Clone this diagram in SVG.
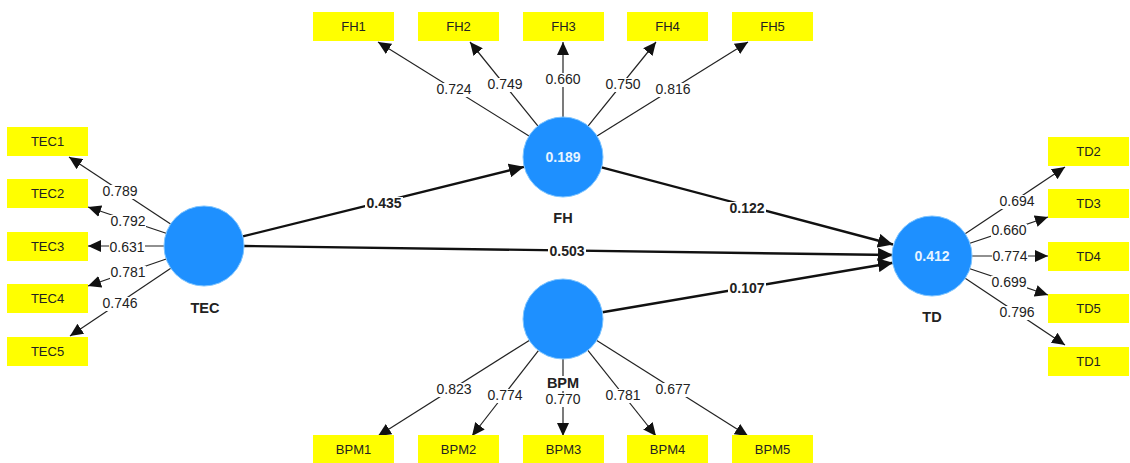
<svg xmlns="http://www.w3.org/2000/svg" width="1130" height="463" viewBox="0 0 1130 463">
<style>
.box{fill:#ffff00}
.bt{font-family:"Liberation Sans",Arial,sans-serif;font-size:13px;fill:#222;text-anchor:middle}
.lv{font-family:"Liberation Sans",Arial,sans-serif;font-size:14px;fill:#222;text-anchor:middle}
.pv{font-family:"Liberation Sans",Arial,sans-serif;font-size:14px;font-weight:bold;fill:#222;text-anchor:middle}
.bg{fill:#fff}
.circ{fill:#1e90ff;stroke:#7cc4ff;stroke-width:1}
.ct{font-family:"Liberation Sans",Arial,sans-serif;font-size:14px;font-weight:bold;fill:#e8f4ff;text-anchor:middle}
.nl{font-family:"Liberation Sans",Arial,sans-serif;font-size:14.5px;font-weight:bold;fill:#222;text-anchor:middle}
.m{stroke:#222;stroke-width:1.2;fill:none;marker-end:url(#a)}
.s{stroke:#111;stroke-width:2.4;fill:none;marker-end:url(#b)}
</style>
<defs>
<marker id="a" markerUnits="userSpaceOnUse" markerWidth="14" markerHeight="12" refX="13" refY="6" orient="auto"><path d="M0,0 L13,6 L0,12 Z" fill="#111"/></marker>
<marker id="b" markerUnits="userSpaceOnUse" markerWidth="16" markerHeight="14" refX="15" refY="7" orient="auto"><path d="M0,0 L15,7 L0,14 Z" fill="#111"/></marker>
</defs>
<rect width="1130" height="463" fill="#fff"/>

<g id="connectors">
<line class="m" x1="170.6" y1="224" x2="69" y2="157"/>
<line class="m" x1="166.1" y1="233.3" x2="88" y2="207"/>
<line class="m" x1="164" y1="246" x2="88" y2="246"/>
<line class="m" x1="166.2" y1="259" x2="88" y2="286"/>
<line class="m" x1="170.8" y1="268.3" x2="70" y2="336"/>

<line class="m" x1="529" y1="135.9" x2="378" y2="42"/>
<line class="m" x1="537.8" y1="125.9" x2="470" y2="42"/>
<line class="m" x1="563" y1="117" x2="563" y2="42"/>
<line class="m" x1="588.2" y1="125.9" x2="656" y2="42"/>
<line class="m" x1="597" y1="135.9" x2="748" y2="42"/>

<line class="m" x1="529.2" y1="340.4" x2="378" y2="436"/>
<line class="m" x1="538.4" y1="350.6" x2="472" y2="436"/>
<line class="m" x1="563" y1="359" x2="563" y2="436"/>
<line class="m" x1="587.9" y1="350.3" x2="656" y2="436"/>
<line class="m" x1="596.8" y1="340.4" x2="748" y2="436"/>

<line class="m" x1="965.2" y1="233.8" x2="1065" y2="167"/>
<line class="m" x1="969.9" y1="243.3" x2="1048" y2="217"/>
<line class="m" x1="972" y1="256" x2="1048" y2="256"/>
<line class="m" x1="969.9" y1="268.7" x2="1048" y2="295"/>
<line class="m" x1="965.2" y1="278.2" x2="1065" y2="345"/>

<line class="s" x1="242.8" y1="236.4" x2="524" y2="166.8"/>
<line class="s" x1="601.6" y1="167.4" x2="893" y2="244.5"/>
<line class="s" x1="244" y1="246" x2="893" y2="255"/>
<line class="s" x1="602.4" y1="312.3" x2="893" y2="262.7"/>

<rect class="bg" x="102" y="185" width="36" height="14"/>
<rect class="bg" x="110" y="215" width="36" height="14"/>
<rect class="bg" x="109" y="240.5" width="36" height="14"/>
<rect class="bg" x="110" y="266" width="36" height="14"/>
<rect class="bg" x="102" y="297" width="36" height="14"/>
<rect class="bg" x="436" y="83" width="36" height="14"/>
<rect class="bg" x="487" y="78" width="36" height="14"/>
<rect class="bg" x="545" y="73" width="36" height="14"/>
<rect class="bg" x="605" y="78" width="36" height="14"/>
<rect class="bg" x="655" y="83" width="36" height="14"/>
<rect class="bg" x="436" y="383" width="36" height="14"/>
<rect class="bg" x="487" y="389" width="36" height="14"/>
<rect class="bg" x="545" y="393" width="36" height="14"/>
<rect class="bg" x="605" y="389" width="36" height="14"/>
<rect class="bg" x="655" y="383" width="36" height="14"/>
<rect class="bg" x="999" y="195" width="36" height="14"/>
<rect class="bg" x="991" y="224" width="36" height="14"/>
<rect class="bg" x="992" y="250" width="36" height="14"/>
<rect class="bg" x="991" y="276" width="36" height="14"/>
<rect class="bg" x="999" y="306" width="36" height="14"/>
<rect class="bg" x="365" y="197" width="38" height="14"/>
<rect class="bg" x="728" y="202" width="38" height="14"/>
<rect class="bg" x="548" y="245" width="38" height="14"/>
<rect class="bg" x="728" y="282" width="38" height="14"/>
<rect class="bg" x="544" y="376" width="38" height="15"/>

<text class="lv" x="120" y="196">0.789</text>
<text class="lv" x="128" y="226">0.792</text>
<text class="lv" x="127" y="251.5">0.631</text>
<text class="lv" x="128" y="277">0.781</text>
<text class="lv" x="120" y="308">0.746</text>

<text class="lv" x="454" y="94">0.724</text>
<text class="lv" x="505" y="89">0.749</text>
<text class="lv" x="563" y="84">0.660</text>
<text class="lv" x="623" y="89">0.750</text>
<text class="lv" x="673" y="94">0.816</text>

<text class="lv" x="454" y="394">0.823</text>
<text class="lv" x="505" y="400">0.774</text>
<text class="lv" x="563" y="404">0.770</text>
<text class="lv" x="623" y="400">0.781</text>
<text class="lv" x="673" y="394">0.677</text>

<text class="lv" x="1017" y="206">0.694</text>
<text class="lv" x="1009" y="235">0.660</text>
<text class="lv" x="1010" y="261">0.774</text>
<text class="lv" x="1009" y="287">0.699</text>
<text class="lv" x="1017" y="317">0.796</text>

<text class="pv" x="384" y="208">0.435</text>
<text class="pv" x="747" y="213">0.122</text>
<text class="pv" x="567" y="256">0.503</text>
<text class="pv" x="747" y="293">0.107</text>
</g>

<g id="TEC">
<circle class="circ" cx="204" cy="246" r="40"/>
<text class="nl" x="205" y="313">TEC</text>
</g>
<g id="FH">
<circle class="circ" cx="563" cy="157" r="40"/>
<text class="ct" x="563" y="162">0.189</text>
<text class="nl" x="563" y="223">FH</text>
</g>
<g id="BPM">
<circle class="circ" cx="563" cy="319" r="40"/>
<text class="nl" x="563" y="388">BPM</text>
</g>
<g id="TD">
<circle class="circ" cx="932" cy="256" r="40"/>
<text class="ct" x="932" y="261">0.412</text>
<text class="nl" x="932" y="322">TD</text>
</g>

<g id="TEC1"><rect class="box" x="7" y="127" width="81" height="29"/><text class="bt" x="47.5" y="146">TEC1</text></g>
<g id="TEC2"><rect class="box" x="7" y="179" width="81" height="29"/><text class="bt" x="47.5" y="198">TEC2</text></g>
<g id="TEC3"><rect class="box" x="7" y="232" width="81" height="29"/><text class="bt" x="47.5" y="251">TEC3</text></g>
<g id="TEC4"><rect class="box" x="7" y="284" width="81" height="29"/><text class="bt" x="47.5" y="303">TEC4</text></g>
<g id="TEC5"><rect class="box" x="7" y="337" width="81" height="29"/><text class="bt" x="47.5" y="356">TEC5</text></g>

<g id="FH1"><rect class="box" x="313" y="12" width="81" height="29"/><text class="bt" x="353.5" y="31">FH1</text></g>
<g id="FH2"><rect class="box" x="418" y="12" width="81" height="29"/><text class="bt" x="458.5" y="31">FH2</text></g>
<g id="FH3"><rect class="box" x="523" y="12" width="81" height="29"/><text class="bt" x="563.5" y="31">FH3</text></g>
<g id="FH4"><rect class="box" x="627" y="12" width="81" height="29"/><text class="bt" x="667.5" y="31">FH4</text></g>
<g id="FH5"><rect class="box" x="732" y="12" width="81" height="29"/><text class="bt" x="772.5" y="31">FH5</text></g>

<g id="BPM1"><rect class="box" x="313" y="435" width="81" height="29"/><text class="bt" x="353.5" y="454">BPM1</text></g>
<g id="BPM2"><rect class="box" x="418" y="435" width="81" height="29"/><text class="bt" x="458.5" y="454">BPM2</text></g>
<g id="BPM3"><rect class="box" x="523" y="435" width="81" height="29"/><text class="bt" x="563.5" y="454">BPM3</text></g>
<g id="BPM4"><rect class="box" x="627" y="435" width="81" height="29"/><text class="bt" x="667.5" y="454">BPM4</text></g>
<g id="BPM5"><rect class="box" x="732" y="435" width="81" height="29"/><text class="bt" x="772.5" y="454">BPM5</text></g>

<g id="TD2"><rect class="box" x="1048" y="137" width="81" height="29"/><text class="bt" x="1088.5" y="156">TD2</text></g>
<g id="TD3"><rect class="box" x="1048" y="189" width="81" height="29"/><text class="bt" x="1088.5" y="208">TD3</text></g>
<g id="TD4"><rect class="box" x="1048" y="242" width="81" height="29"/><text class="bt" x="1088.5" y="261">TD4</text></g>
<g id="TD5"><rect class="box" x="1048" y="294" width="81" height="29"/><text class="bt" x="1088.5" y="313">TD5</text></g>
<g id="TD1"><rect class="box" x="1048" y="347" width="81" height="29"/><text class="bt" x="1088.5" y="366">TD1</text></g>
</svg>
